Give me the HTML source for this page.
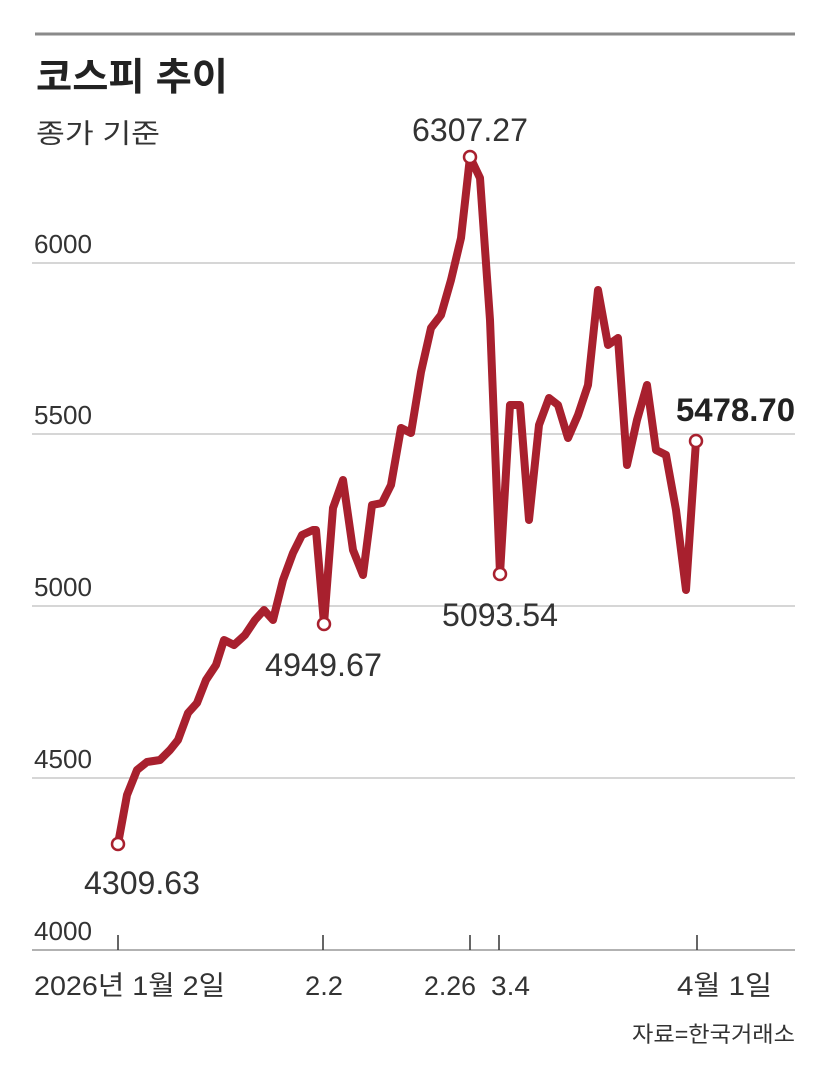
<!DOCTYPE html>
<html><head><meta charset="utf-8"><style>
html,body{margin:0;padding:0;background:#fff;}
svg{display:block;}
text{font-family:"Liberation Sans","Noto Sans CJK KR",sans-serif;}
</style></head><body>
<svg width="830" height="1084" viewBox="0 0 830 1084" xmlns="http://www.w3.org/2000/svg">
<rect width="830" height="1084" fill="#fff"/>
<line x1="35" y1="34" x2="795" y2="34" stroke="#8a8a8a" stroke-width="3"/>
<text x="36" y="90" font-size="38" font-weight="bold" fill="#222" textLength="192" lengthAdjust="spacingAndGlyphs">코스피 추이</text>
<text x="36" y="143" font-size="27" fill="#333" textLength="124" lengthAdjust="spacingAndGlyphs">종가 기준</text>
<g stroke="#c8c8c8" stroke-width="1.5">
<line x1="32" y1="263" x2="795" y2="263"/>
<line x1="32" y1="434" x2="795" y2="434"/>
<line x1="32" y1="606" x2="795" y2="606"/>
<line x1="32" y1="778" x2="795" y2="778"/>
<line x1="32" y1="950" x2="795" y2="950" stroke="#999"/>
</g>
<g font-size="26" fill="#333">
<text x="34" y="253" textLength="58" lengthAdjust="spacingAndGlyphs">6000</text>
<text x="34" y="424" textLength="58" lengthAdjust="spacingAndGlyphs">5500</text>
<text x="34" y="596" textLength="58" lengthAdjust="spacingAndGlyphs">5000</text>
<text x="34" y="768" textLength="58" lengthAdjust="spacingAndGlyphs">4500</text>
<text x="34" y="940" textLength="58" lengthAdjust="spacingAndGlyphs">4000</text>
</g>
<g stroke="#333" stroke-width="1.5">
<line x1="118" y1="935" x2="118" y2="950"/>
<line x1="323" y1="935" x2="323" y2="950"/>
<line x1="470" y1="935" x2="470" y2="950"/>
<line x1="499" y1="935" x2="499" y2="950"/>
<line x1="697" y1="935" x2="697" y2="950"/>
</g>
<g font-size="27" fill="#333">
<text x="34" y="995" textLength="191" lengthAdjust="spacingAndGlyphs">2026년 1월 2일</text>
<text x="305" y="995" textLength="38" lengthAdjust="spacingAndGlyphs">2.2</text>
<text x="424" y="995" textLength="52" lengthAdjust="spacingAndGlyphs">2.26</text>
<text x="491" y="995" textLength="39" lengthAdjust="spacingAndGlyphs">3.4</text>
<text x="677" y="995" textLength="95" lengthAdjust="spacingAndGlyphs">4월 1일</text>
</g>
<text x="632" y="1042" font-size="22" fill="#333" textLength="163" lengthAdjust="spacingAndGlyphs">자료=한국거래소</text>
<polyline fill="none" stroke="#a8202e" stroke-width="8" stroke-linejoin="round" stroke-linecap="round" points="118,844 127,795 137,770 147,762 160,760 170,750 178,740 188,713 197,703 206,680 216,665 224,640 234,645 245,635 255,620 264,610 273,620 283,580 293,553 302,535 313,530 316,530 324,624 333,508 343,480 353,550 363,575 372,505 382,503 391,485 401,428 411,433 421,372 431,328 441,315 451,280 461,238 470,157 480,178 490,320 500,574 510,405 520,405 529,520 539,425 549,398 558,405 568,438 578,415 588,385 598,290 608,345 618,338 627,465 637,420 647,385 656,450 666,455 676,510 686,590 696,441"/>
<g fill="#fff" stroke="#a8202e" stroke-width="2.5">
<circle cx="118" cy="844" r="6"/>
<circle cx="324" cy="624" r="6"/>
<circle cx="470" cy="157" r="6"/>
<circle cx="500" cy="574" r="6"/>
<circle cx="696" cy="441" r="6"/>
</g>
<g font-size="32" fill="#333">
<text x="84" y="894" textLength="116" lengthAdjust="spacingAndGlyphs">4309.63</text>
<text x="265" y="676" textLength="117" lengthAdjust="spacingAndGlyphs">4949.67</text>
<text x="412" y="141" textLength="116" lengthAdjust="spacingAndGlyphs">6307.27</text>
<text x="442" y="626" textLength="116" lengthAdjust="spacingAndGlyphs">5093.54</text>
<text x="676" y="421" font-weight="bold" fill="#222" textLength="119" lengthAdjust="spacingAndGlyphs">5478.70</text>
</g>
</svg>
</body></html>
